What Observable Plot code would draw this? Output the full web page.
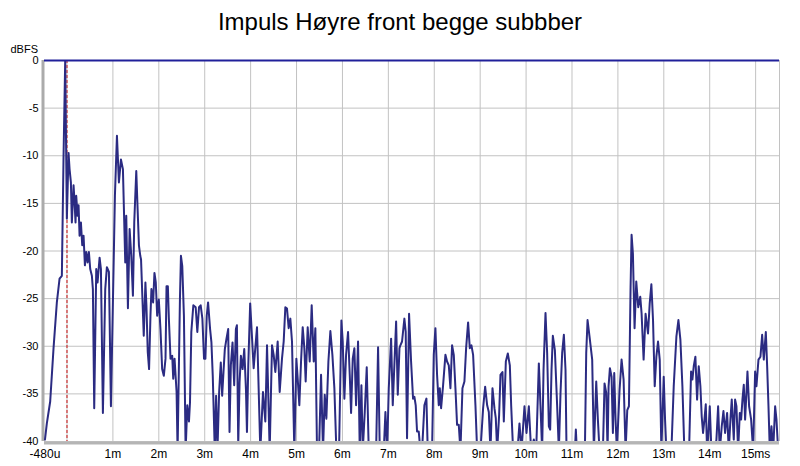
<!DOCTYPE html>
<html><head><meta charset="utf-8">
<script src="https://cdn.jsdelivr.net/npm/d3@7"></script>
<script src="https://cdn.jsdelivr.net/npm/@observablehq/plot@0.6"></script>
<style>
body{margin:0;background:#fff;width:800px;height:466px;overflow:hidden;font-family:"Liberation Sans",Arial,sans-serif;}
#title{height:40px;line-height:44px;text-align:center;font-size:24px;color:#000;}
#chart svg{display:block;}
</style></head><body>
<div id="title">Impuls Høyre front begge subbber</div>
<div id="chart"></div>
<script>
const timeMs = [
-0.48,-0.439,-0.366,-0.293,-0.221,-0.162,-0.112,-0.075,-0.039,-0.003,
0.034,0.056,0.085,0.106,0.143,0.165,0.186,0.201,0.23,0.252,
0.274,0.303,0.332,0.361,0.39,0.419,0.448,0.477,0.506,0.542,
0.564,0.593,0.637,0.666,0.71,0.739,0.782,0.833,0.869,0.913,
0.957,1.0,1.044,1.088,1.131,1.175,1.218,1.269,1.291,1.327,
1.364,1.4,1.436,1.465,1.509,1.538,1.567,1.596,
1.613,1.672,1.708,1.73,1.759,1.788,1.818,1.839,1.876,1.905,
1.934,1.964,2.0,2.036,2.073,2.109,2.146,2.168,2.197,2.219,
2.255,2.292,2.314,2.343,2.387,2.409,2.46,2.482,2.511,2.547,
2.584,2.62,2.657,2.679,2.708,2.752,2.803,2.839,2.876,2.912,
2.949,2.985,3.015,3.044,3.073,3.117,3.146,3.175,3.219,3.248,
3.277,3.314,3.35,3.38,3.409,3.438,3.474,3.511,3.54,3.569,
3.606,3.642,3.679,3.701,3.73,3.759,3.788,3.825,3.861,3.898,
3.92,3.949,3.99,
4.066,4.139,4.211,4.269,4.32,4.357,4.415,4.466,4.502,4.538,4.589,4.633,
4.683,4.72,4.756,4.792,4.829,4.865,4.901,4.952,4.996,5.025,
5.061,5.098,5.134,5.17,5.199,5.243,5.287,5.33,5.374,5.41,
5.446,5.49,5.534,5.577,5.614,5.65,5.694,5.737,5.781,5.824,
5.868,5.926,5.977,6.006,6.042,6.079,6.122,6.159,6.188,6.224,
6.26,6.297,6.34,6.377,6.413,6.442,6.486,6.529,6.573,6.733,
6.776,6.813,6.9,6.936,6.973,7.009,7.06,7.096,7.14,7.169,
7.205,7.242,
7.262,7.298,7.349,7.378,7.407,7.451,7.495,7.538,7.567,7.596,
7.625,7.662,7.698,7.734,7.785,7.829,7.858,7.952,7.989,8.025,
8.061,8.098,8.12,8.149,8.192,8.243,8.279,8.316,8.352,8.388,
8.425,8.461,8.497,8.534,8.57,8.614,8.657,8.694,8.737,8.774,
8.81,8.846,8.897,8.934,9.006,9.064,9.108,9.152,9.188,9.224,
9.268,9.311,9.34,9.37,9.413,9.442,9.486,9.515,9.559,9.602,
9.646,9.675,9.718,9.806,
9.827,9.856,9.9,9.965,10.009,10.06,10.11,10.169,10.22,10.278,
10.314,10.35,10.38,10.423,10.459,10.496,10.525,10.554,10.583,10.627,
10.677,10.714,10.75,10.786,10.823,10.859,10.881,11.063,11.084,11.106,
11.281,11.31,11.339,11.382,11.44,11.477,11.528,11.564,11.6,11.673,
11.709,11.746,11.775,11.797,11.826,11.862,11.891,11.92,11.949,11.978,
12.036,12.08,12.124,12.167,12.204,12.24,12.276,12.298,12.327,12.363,
12.4,12.443,12.487,12.516,12.56,12.603,
12.656,12.693,12.729,12.765,12.802,12.838,12.874,12.911,12.947,12.998,
13.027,13.056,13.165,13.216,13.274,13.318,13.361,13.405,13.448,13.55,
13.594,13.623,13.652,13.688,13.725,13.761,13.797,13.826,13.855,13.885,
13.914,13.943,13.972,14.001,14.037,14.11,14.146,14.183,14.219,14.262,
14.299,14.335,14.379,14.415,14.451,14.48,14.524,14.553,14.582,14.619,
14.655,14.684,14.713,14.742,14.771,14.8,14.822,14.858,14.902,14.946,
14.989,15.018,15.062,15.105,15.142,15.178,15.222,15.251,15.28,15.309,
15.345,15.382,15.425,15.454,15.491,15.56
];
const levelDb = [
-39.8,-38.1,-35.8,-30.2,-25.4,-22.9,-22.6,-10.0,0,-16.6,
-9.7,-11.4,-12.8,-17.0,-13.1,-14.9,-17.0,-14.2,-16.3,-15.2,
-18.4,-17.0,-19.4,-18.4,-21.5,-20.1,-21.2,-20.1,-21.9,-22.6,
-24.0,-36.5,-21.9,-23.3,-20.7,-21.9,-37.0,-24.0,-21.7,-22.2,
-36.3,-25.4,-14.2,-7.9,-12.8,-10.4,-11.4,-21.2,-16.3,-26.0,
-17.7,-20.5,-24.7,-17.0,-11.6,-15.6,-19.4,-20.5,
-20.9,-28.9,-23.3,-25.7,-30.6,-32.4,-26.8,-24.0,-25.4,-22.3,
-23.3,-26.8,-25.1,-28.2,-32.4,-33.1,-31.3,-23.7,-23.7,-27.1,
-31.3,-31.0,-33.4,-31.3,-34.8,-41,-25.1,-20.5,-21.6,-26.8,
-41,-36.2,-37.9,-35.9,-28.5,-25.7,-25.9,-28.5,-25.9,-25.7,
-27.1,-31.3,-31.3,-26.8,-25.4,-28.2,-29.6,-33.1,-41,-35.2,
-41,-34.8,-31.7,-35.2,-32.7,-30.3,-29.2,-28.2,-39.0,-32.0,
-29.6,-34.1,-28.2,-27.8,-40.4,-33.8,-31.0,-32.4,-30.3,-34.5,
-39.0,-32.0,-25.5,
-32.3,-28.0,-41,-34.8,-37.9,-29.9,-41,-29.9,-30.9,-32.7,-29.5,-34.8,
-31.3,-29.5,-25.9,-26.05,-28.1,-27.1,-29.5,-41,-31.3,-33.4,
-36.2,-31.6,-28.0,-30.2,-33.7,-28.0,-31.6,-25.7,-31.6,-28.1,
-41,-41,-33.0,-41,-35.1,-37.6,-31.6,-28.4,-30.9,-34.4,
-41,-41,-27.3,-29.5,-35.5,-30.9,-28.5,-33.0,-37.0,-31.3,
-30.2,-36.2,-29.5,-41,-34.1,-41,-36.9,-32.2,-41,-41,
-30.1,-41,-41,-36.9,-41,-34.4,-29.2,-36.2,-30.9,-27.4,
-35.1,-30.2,
-29.9,-29.5,-27.1,-28.5,-39.65,-26.6,-31.6,-35.5,-35.3,-36.2,
-38.95,-38.95,-41,-41,-36.2,-35.5,-41,-41,-30.9,-28.1,
-33.0,-36.2,-34.4,-36.5,-34.1,-30.9,-31.6,-32.0,-34.4,-29.9,
-30.9,-34.4,-38.25,-38.25,-41,-34.4,-33.7,-30.2,-27.5,-30.2,
-29.9,-30.9,-36.2,-41,-41,-36.5,-34.25,-36.2,-36.9,-41,
-34.4,-36.5,-37.55,-41,-37.2,-33.0,-32.7,-37.9,-31.6,-30.75,
-32.0,-36.2,-41,-41,
-40,-38.1,-41,-36.3,-39.1,-36.3,-41,-39.8,-41,-31.8,
-36.3,-41,-32.5,-26.5,-30.7,-38.4,-38.75,-32.5,-28.9,-30.4,
-36.3,-41,-34.9,-30.7,-28.8,-32.5,-41,-41,-38.75,-41,
-41,-30.7,-27.25,-29.0,-31.4,-41,-33.7,-37.7,-41,-41,
-33.9,-34.9,-41,-34.2,-32.3,-33.2,-39.1,-32.8,-37.7,-41,
-34.6,-31.4,-33.5,-41,-36.7,-36.3,-23.8,-18.3,-20.3,-28.1,
-23.2,-25.9,-24.8,-26.56,-31.4,-26.6,
-28.65,-25.5,-23.5,-27.25,-34.2,-31.1,-29.5,-31.4,-41,-33.2,
-37.7,-41,-41,-34.2,-29.0,-27.25,-29.3,-34.2,-41,-41,
-32.65,-33.5,-32.1,-31.1,-35.6,-32.1,-34.2,-37.4,-39.1,-37.7,
-36.1,-41,-39.1,-36.3,-41,-41,-39.8,-36.3,-41,-38.4,
-36.8,-39.1,-37.0,-41,-37.7,-35.6,-39.8,-35.6,-36.3,-41,
-37.0,-37.7,-35.6,-34.05,-37.7,-34.9,-32.65,-36.3,-37.7,-41,
-32.65,-34.2,-31.4,-31.1,-28.8,-31.4,-28.5,-32.1,-36.3,-41,
-38.4,-41,-36.3,-37.7,-41,-40
];
const xTickValues = [-0.48,1,2,3,4,5,6,7,8,9,10,11,12,13,14,15];
const xTickLabels = ["-480u","1m","2m","3m","4m","5m","6m","7m","8m","9m","10m","11m","12m","13m","14m","15ms"];
const yTickValues = [0,-5,-10,-15,-20,-25,-30,-35,-40];
const gridTimes = [0,1,2,3,4,5,6,7,8,9,10,11,12,13,14,15];
const markerTime = [0];
const xDomain = [-0.49, 15.52];
const yDomain = [-40, 0];
const yUnit = "dBFS";

const data = timeMs.map((t, i) => ({t, db: levelDb[i]}));

const chart = Plot.plot({
  width: 800, height: 426,
  marginTop: 20, marginBottom: 25, marginLeft: 44, marginRight: 21,
  x: {domain: xDomain},
  y: {domain: yDomain},
  style: {fontFamily: "Liberation Sans, Arial, sans-serif", fontSize: "12px", background: "#fff", color: "#000"},
  marks: [
    Plot.ruleY(yTickValues, {stroke: "#c2c2c2", strokeWidth: 1}),
    Plot.ruleX(gridTimes, {stroke: "#c2c2c2", strokeWidth: 1}),
    Plot.ruleX([xDomain[1]], {stroke: "#c2c2c2", strokeWidth: 1}),
    Plot.ruleX([xDomain[0]], {stroke: "#ababab", strokeWidth: 3, dx: -1.5}),
    Plot.ruleY([yDomain[0]], {stroke: "#b5b5b5", strokeWidth: 3, dy: 1.5}),
    Plot.ruleX(markerTime, {stroke: "#cc1111", strokeWidth: 1, strokeDasharray: "3,2"}),
    Plot.line(data, {x: "t", y: "db", stroke: "#2b2b82", strokeWidth: 2, clip: true, strokeLinejoin: "round"}),
    Plot.ruleY([yDomain[1]], {stroke: "#20209a", strokeWidth: 2}),
    Plot.axisX(xTickValues, {tickSize: 0, tickPadding: 8, label: null, fontSize: 12,
      tickFormat: d => xTickLabels[xTickValues.indexOf(d)]}),
    Plot.axisY(yTickValues, {tickSize: 0, tickPadding: 6, label: null, fontSize: 11, tickFormat: d => String(d)}),
    Plot.text([yUnit], {frameAnchor: "top-left", dx: -34, dy: -15, textAnchor: "start", fontSize: 11})
  ]
});
document.getElementById("chart").appendChild(chart);
</script>
</body></html>
